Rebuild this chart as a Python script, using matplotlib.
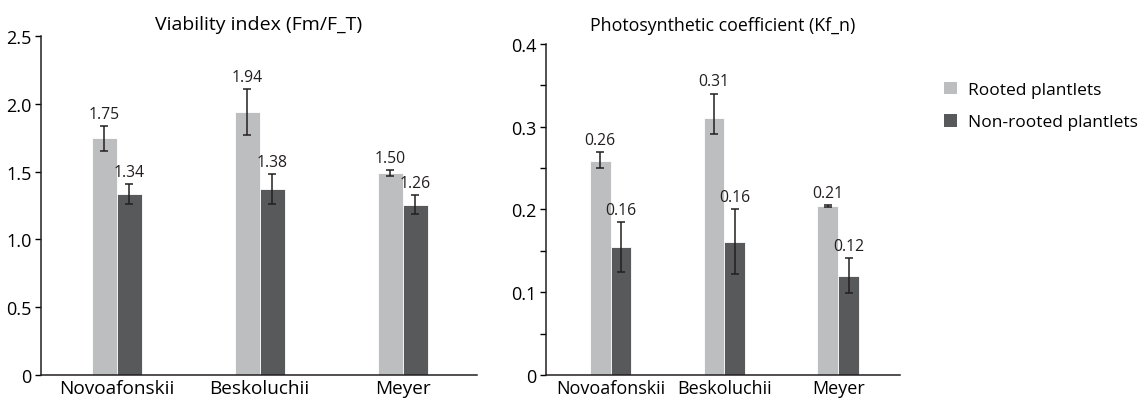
import numpy as np
import matplotlib
matplotlib.use('Agg')
import matplotlib.pyplot as plt
from matplotlib.patches import Patch

plt.rcParams['font.family'] = ['Open Sans', 'DejaVu Sans']
plt.rcParams['font.size'] = 13

cultivars = ['Novoafonskii', 'Beskoluchii', 'Meyer']
series = ['Rooted plantlets', 'Non-rooted plantlets']

# viability index Fm/F_T
fm_rooted = [1.745, 1.94, 1.49]
fm_rooted_err = [0.09, 0.17, 0.02]
fm_nonrooted = [1.335, 1.372, 1.255]
fm_nonrooted_err = [0.075, 0.11, 0.07]
fm_labels_rooted = ['1.75', '1.94', '1.50']
fm_labels_nonrooted = ['1.34', '1.38', '1.26']

# photosynthetic coefficient Kf_n
kf_rooted = [0.259, 0.311, 0.2045]
kf_rooted_err = [[0.009, 0.02, 0.001], [0.01, 0.029, 0.001]]
kf_nonrooted = [0.155, 0.161, 0.12]
kf_nonrooted_err = [0.03, 0.039, 0.021]
kf_labels_rooted = ['0.26', '0.31', '0.21']
kf_labels_nonrooted = ['0.16', '0.16', '0.12']

c_light = '#bcbec0'
c_dark = '#58595b'

fig = plt.figure(figsize=(11.43, 4.02), dpi=100)
ax1 = fig.add_axes([0.0359, 0.0647, 0.3815, 0.8433])
ax2 = fig.add_axes([0.4777, 0.0647, 0.3097, 0.8234])


def draw(ax, rooted, rerr, nonrooted, nerr, lab_r, lab_n, w, fs_val, fs_x, fs_y):
    x = np.arange(len(cultivars))
    ax.bar(x - w / 2, rooted, w, color=c_light, edgecolor='white', linewidth=0.6,
           yerr=rerr, error_kw=dict(ecolor='#231f20', elinewidth=1.1, capsize=3, capthick=1.1))
    ax.bar(x + w / 2, nonrooted, w, color=c_dark, edgecolor='white', linewidth=0.6,
           yerr=nerr, error_kw=dict(ecolor='#231f20', elinewidth=1.1, capsize=3, capthick=1.1))
    rtop = np.array(rooted) + (np.array(rerr)[1] if np.ndim(rerr) == 2 else np.array(rerr))
    ntop = np.array(nonrooted) + np.array(nerr)
    for i in range(len(x)):
        ax.annotate(lab_r[i], (x[i] - w / 2, rtop[i]), xytext=(0, 3), textcoords='offset points',
                    ha='center', va='bottom', color='#231f20', fontsize=fs_val)
        ax.annotate(lab_n[i], (x[i] + w / 2, ntop[i]), xytext=(0, 3), textcoords='offset points',
                    ha='center', va='bottom', color='#231f20', fontsize=fs_val)
    ax.set_xticks(x)
    ax.set_xticklabels(cultivars, fontsize=fs_x)
    ax.tick_params(axis='x', length=0, pad=3)
    ax.tick_params(axis='y', length=4, width=1, direction='out', pad=3, labelsize=fs_y)
    for s in ['top', 'right']:
        ax.spines[s].set_visible(False)
    for s in ['left', 'bottom']:
        ax.spines[s].set_linewidth(1.1)
        ax.spines[s].set_color('#231f20')


draw(ax1, fm_rooted, fm_rooted_err, fm_nonrooted, fm_nonrooted_err,
     fm_labels_rooted, fm_labels_nonrooted, 0.175, 11.3, 13.7, 13)
ax1.set_xlim(-0.528, 2.52)
ax1.set_ylim(0, 2.5)
ax1.set_yticks([0, 0.5, 1.0, 1.5, 2.0, 2.5])
ax1.set_yticklabels(['0', '0.5', '1.0', '1.5', '2.0', '2.5'])
ax1.set_title('Viability index (Fm/F_T)', pad=5, fontsize=14)

draw(ax2, kf_rooted, kf_rooted_err, kf_nonrooted, kf_nonrooted_err,
     kf_labels_rooted, kf_labels_nonrooted, 0.184, 11.3, 13, 13)
ax2.set_xlim(-0.566, 2.54)
ax2.set_ylim(0, 0.4)
ax2.set_yticks([0, 0.1, 0.2, 0.3, 0.4])
ax2.set_yticklabels(['0', '0.1', '0.2', '0.3', '0.4'])
ax2.set_yticks([0.05, 0.15, 0.25, 0.35], minor=True)
ax2.tick_params(axis='y', which='minor', length=4, width=1)
ax2.set_title('Photosynthetic coefficient (Kf_n)', pad=10, fontsize=12.8)

handles = [Patch(facecolor=c_light, label=series[0]), Patch(facecolor=c_dark, label=series[1])]
fig.legend(handles=handles, loc='upper left', bbox_to_anchor=(0.812, 0.833), frameon=False,
           handlelength=0.75, handleheight=0.75, handletextpad=0.63, labelspacing=0.9,
           fontsize=12.5)

plt.savefig('out.png', dpi=100)
